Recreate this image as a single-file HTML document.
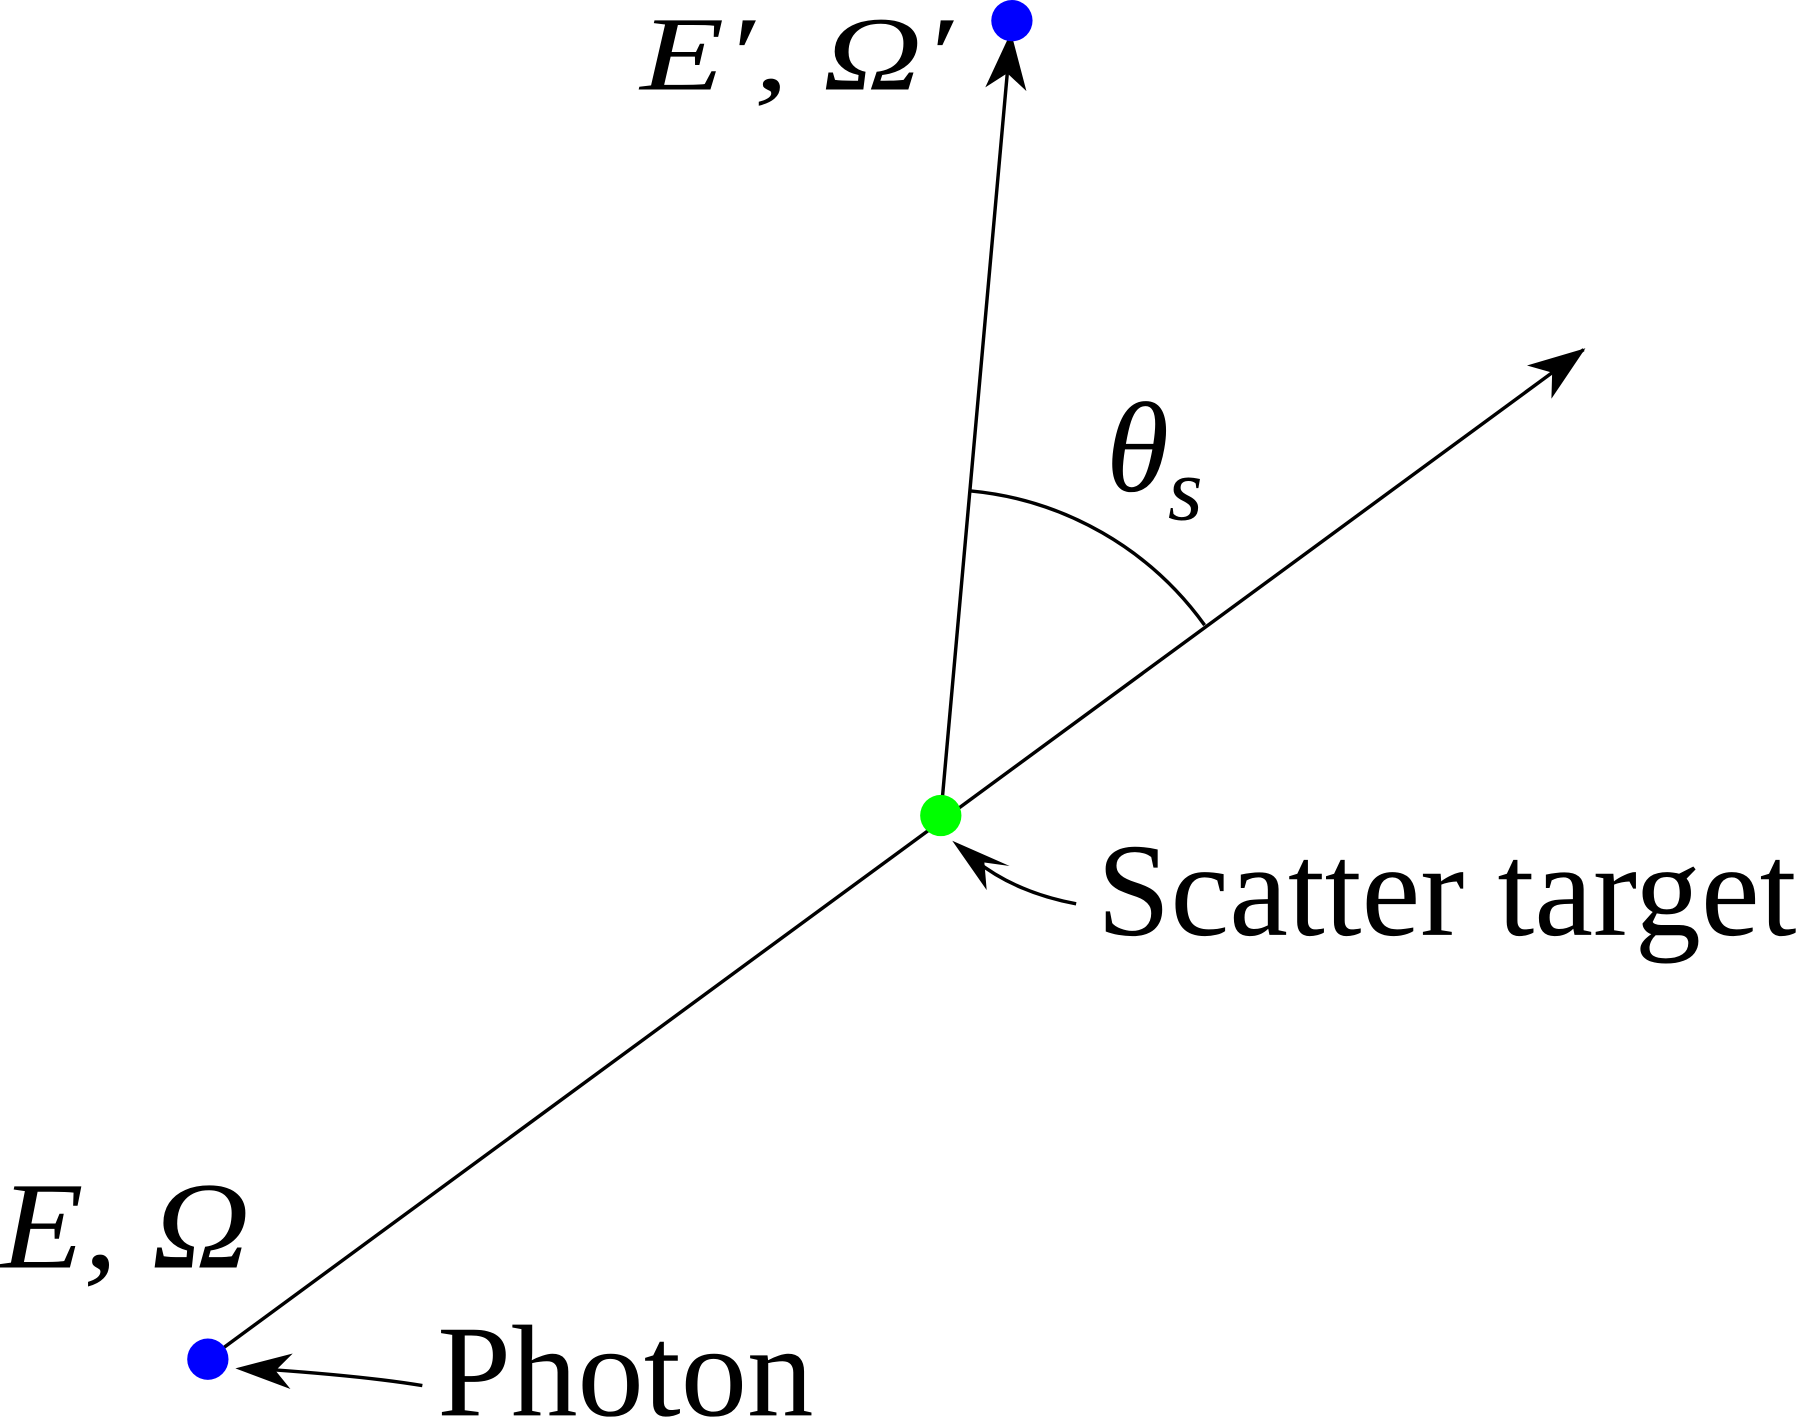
<!DOCTYPE html>
<html><head><meta charset="utf-8"><style>
html,body{margin:0;padding:0;background:#fff;}
svg{display:block;}
text{font-family:"Liberation Serif",serif;fill:#000;}
</style></head><body>
<svg id="fig" width="1799" height="1420" viewBox="0 0 1568 1238" xmlns="http://www.w3.org/2000/svg">
<defs>
<marker id="ah" viewBox="0 0 50 40" refX="48" refY="20" markerWidth="50" markerHeight="40" markerUnits="userSpaceOnUse" orient="auto">
<path d="M0,2 L50,20 L0,38 L14,20 Z" fill="#000"/>
</marker>
</defs>
<g id="lines"></g>
<path d="M846,428 A284,284 0 0 1 1050,545" fill="none" stroke="#000" stroke-width="3"/>
<text x="964" y="428" font-size="112" font-style="italic">θ</text>
<text x="1018" y="453" font-size="78" font-style="italic">s</text>
<text x="558" y="78" font-size="92" font-style="italic" textLength="272" lengthAdjust="spacingAndGlyphs">E′, Ω′</text>
<text x="0" y="1105" font-size="108" font-style="italic" textLength="218" lengthAdjust="spacingAndGlyphs">E, Ω</text>
<text x="956" y="815" font-size="116" textLength="610" lengthAdjust="spacingAndGlyphs">Scatter target</text>
<text x="381" y="1234" font-size="114" textLength="328" lengthAdjust="spacingAndGlyphs">Photon</text>
<path d="M938,788 Q885,778 850,750" fill="none" stroke="#000" stroke-width="3"/>
<path d="M830,733 L880,755 L858,752 L860,776 Z" fill="#000"/>
<path d="M368,1208 Q320,1200 235,1194" fill="none" stroke="#000" stroke-width="3"/>
<path d="M205,1193 L255,1180 L240,1195 L253,1211 Z" fill="#000"/>
<g id="dots"></g>
</svg>
<script>
var pointNames=['photon','scatter-target','scattered-photon'];
var pointX=[181,820,882];
var pointY=[1185,711,18];
var pointColors=['#0000ff','#00ff00','#0000ff'];
var NS='http://www.w3.org/2000/svg';
var lines=document.getElementById('lines');
function ln(x1,y1,x2,y2,name){
 var l=document.createElementNS(NS,'line');
 l.setAttribute('x1',x1);l.setAttribute('y1',y1);l.setAttribute('x2',x2);l.setAttribute('y2',y2);
 l.setAttribute('stroke','#000');l.setAttribute('stroke-width','3');
 l.setAttribute('marker-end','url(#ah)');
 
 
 lines.appendChild(l);
}
var dx=pointX[1]-pointX[0],dy=pointY[1]-pointY[0];
ln(pointX[0],pointY[0],pointX[1]+dx*0.877,pointY[1]+dy*0.857,'incident-direction-line');
ln(pointX[1],pointY[1],pointX[2]-1,pointY[2]+12,'scattered-direction-line');
var dots=document.getElementById('dots');
for(var i=0;i<pointX.length;i++){
 var c=document.createElementNS(NS,'circle');
 c.setAttribute('cx',pointX[i]);c.setAttribute('cy',pointY[i]);c.setAttribute('r',18);
 c.setAttribute('fill',pointColors[i]);
 
 
 dots.appendChild(c);
}
</script>
</body></html>
